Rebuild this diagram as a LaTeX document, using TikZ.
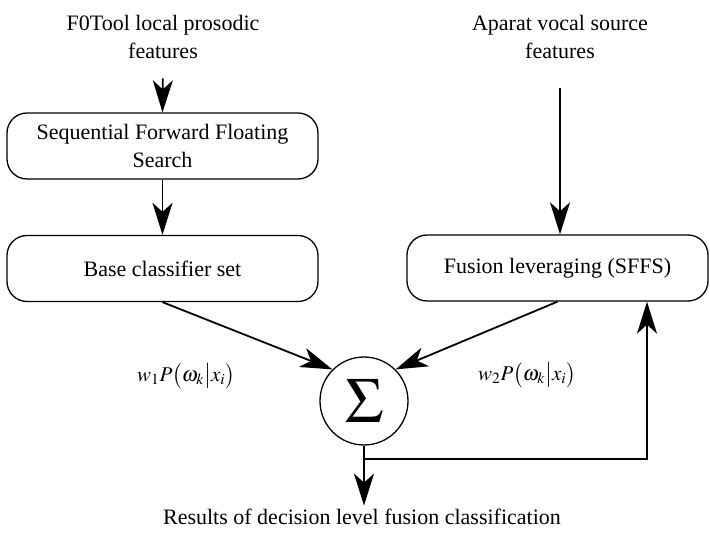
\documentclass[tikz,border=0pt]{standalone}
\usepackage{mathptmx}
\usepackage{fontspec}
\setmainfont{Liberation Serif}
\usepackage{tikz}
\usetikzlibrary{positioning, shapes, arrows.meta}

\tikzset{
  stagebox/.style={draw, rounded corners=20pt, line width=1.3pt, align=center,
    minimum width=311pt, minimum height=66pt, font=\fontsize{22}{28}\selectfont},
  srctext/.style={align=center, font=\fontsize{22}{28}\selectfont},
  flow/.style={line width=1.8pt, -{Stealth[length=32pt, width=20pt, inset=9pt]}},
  wlabel/.style={font=\fontsize{21}{28}\selectfont}
}

\begin{document}
\begin{tikzpicture}[x=1pt, y=-1pt]
        \useasboundingbox (0,0) rectangle (710,534);

        % inputs
        \node[srctext] (prosodic) at (163,37) {F0Tool local prosodic\\features};
        \node[srctext] (vocal) at (560,37) {Aparat vocal source\\features};

        % left branch
        \node[stagebox] (sffs) at (162.5,146) {Sequential Forward Floating\\Search};
        \node[stagebox] (base) at (162.5,268.5) {Base classifier set};

        % right branch
        \node[stagebox, minimum width=301pt] (fusion) at (557.5,268) {Fusion leveraging (SFFS)};

        % combination
        \node[draw, circle, line width=1.3pt, minimum size=88pt, inner sep=0pt] (sum) at (364,401)
            {\fontsize{64}{64}\selectfont$\Sigma$};
        \node[srctext] (result) at (362,517) {Results of decision level fusion classification};

        \node[wlabel] (w1) at (186,376) {$w_1P\bigl(\omega_k\big|x_i\bigr)$};
        \node[wlabel] (w2) at (527,375) {$w_2P\bigl(\omega_k\big|x_i\bigr)$};

        \draw[flow, shorten <=16pt] (prosodic.south) -- (sffs.north);
        \draw[flow] (sffs.south) -- (base.north);
        \draw[flow, shorten <=26pt] (vocal.south) -- (vocal.south |- fusion.north);

        \draw[flow] (base.south) -- (sum.north west);
        \draw[flow] (fusion.south) -- (sum.north east);

        \draw[flow] (sum.south) -- (sum.south |- result.north);
        \coordinate (split) at ([yshift=-13pt]sum.south);
        \draw[flow] (split) -| ([xshift=89.5pt]fusion.south);

    \end{tikzpicture}
\end{document}
